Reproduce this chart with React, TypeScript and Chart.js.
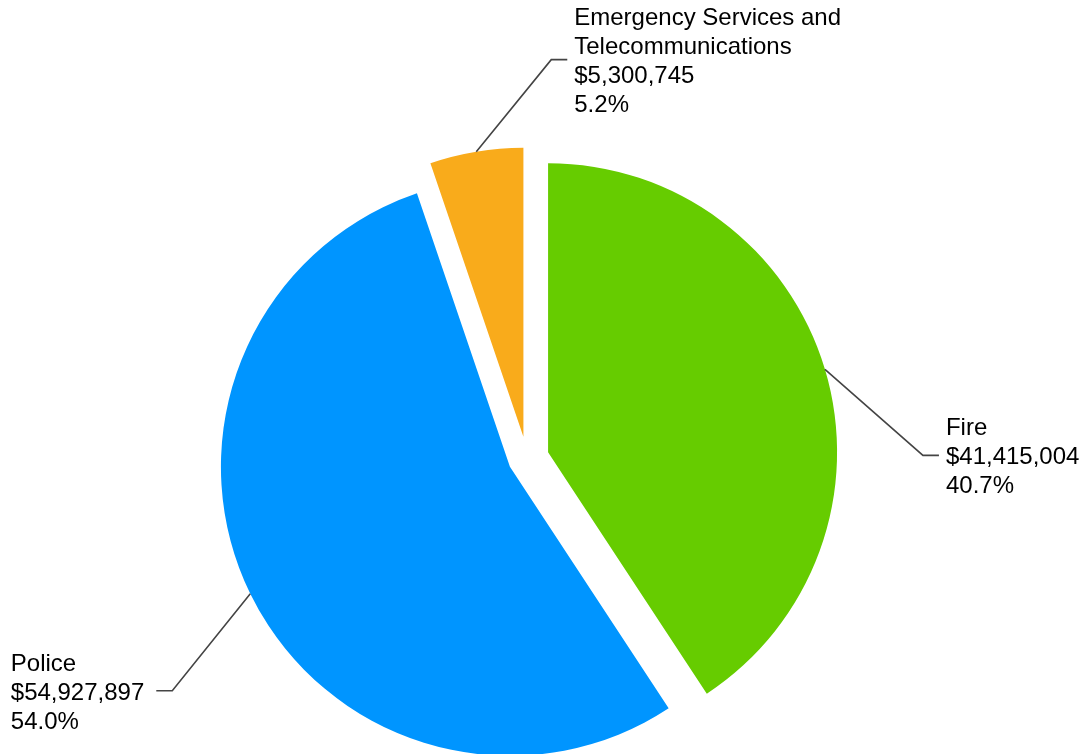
import React, { useEffect, useRef } from "react";
import { Chart, registerables } from "chart.js";

Chart.register(...registerables);

// ---- data ----
const categories = ["Fire", "Police", "Emergency Services and Telecommunications"];
const amounts = [41415004, 54927897, 5300745];
const sliceColors = ["#66CC00", "#0095FF", "#F9AB1B"];

// explode each slice outward along its mid-angle (pixels)
const explodePlugin = {
  id: "explodeSlices",
  afterDatasetsUpdate(chart: any, _args: any, opts: any) {
    const meta = chart.getDatasetMeta(0);
    meta.data.forEach((arc: any, i: number) => {
      const d = (opts.offsets && opts.offsets[i]) || 0;
      const mid = (arc.startAngle + arc.endAngle) / 2;
      arc.x += Math.cos(mid) * d;
      arc.y += Math.sin(mid) * d;
    });
  },
};

function wrapText(ctx: CanvasRenderingContext2D, text: string, maxWidth: number): string[] {
  const words = text.split(" ");
  const lines: string[] = [];
  let cur = "";
  for (const w of words) {
    const test = cur ? cur + " " + w : w;
    if (cur && ctx.measureText(test).width > maxWidth) {
      lines.push(cur);
      cur = w;
    } else {
      cur = test;
    }
  }
  if (cur) lines.push(cur);
  return lines;
}

const labelPlugin = {
  id: "sliceLabels",
  afterDatasetsDraw(chart: any, _args: any, opts: any) {
    const ctx: CanvasRenderingContext2D = chart.ctx;
    const meta = chart.getDatasetMeta(0);
    const values = chart.data.datasets[0].data as number[];
    const labels = chart.data.labels as string[];
    const total = values.reduce((a, b) => a + b, 0);
    ctx.save();
    ctx.font = opts.font;
    ctx.textAlign = "left";
    ctx.textBaseline = "alphabetic";
    meta.data.forEach((arc: any, i: number) => {
      const mid = (arc.startAngle + arc.endAngle) / 2;
      const ax = arc.x + Math.cos(mid) * arc.outerRadius;
      const ay = arc.y + Math.sin(mid) * arc.outerRadius;
      const [dx, dy] = opts.leaders[i];
      const ex = ax + dx;
      const ey = ay + dy;
      const side = dx >= 0 ? 1 : -1;
      const hx = ex + side * opts.tail;

      ctx.strokeStyle = opts.lineColor;
      ctx.lineWidth = opts.lineWidth;
      ctx.beginPath();
      ctx.moveTo(ax, ay);
      ctx.lineTo(ex, ey);
      ctx.lineTo(hx, ey);
      ctx.stroke();

      const v = values[i];
      const lines = [
        ...wrapText(ctx, labels[i], opts.wrapWidth),
        "$" + v.toLocaleString("en-US"),
        ((v / total) * 100).toFixed(1) + "%",
      ];
      const maxW = Math.max(...lines.map((l) => ctx.measureText(l).width));
      const tx = side > 0 ? hx + opts.gapRight : hx - opts.gapLeft - maxW;
      const firstBase = ey - ((lines.length - 1) / 2) * opts.lineHeight + opts.capOffset;
      ctx.fillStyle = opts.textColor;
      lines.forEach((l, k) => ctx.fillText(l, tx, firstBase + k * opts.lineHeight));
    });
    ctx.restore();
  },
};

export default function App() {
  const canvasRef = useRef<HTMLCanvasElement | null>(null);

  useEffect(() => {
    if (!canvasRef.current) return;
    const chart = new Chart(canvasRef.current, {
      type: "pie",
      data: {
        labels: categories,
        datasets: [
          {
            data: amounts,
            backgroundColor: sliceColors,
            borderWidth: 0,
            clip: false,
          } as any,
        ],
      },
      options: {
        responsive: false,
        animation: false,
        events: [],
        radius: 289,
        layout: { padding: { left: 0, right: 34, top: 163, bottom: 0 } },
        plugins: {
          legend: { display: false },
          tooltip: { enabled: false },
          explodeSlices: { offsets: [22, 19, 22] },
          sliceLabels: {
            leaders: [
              [98, 86],
              [-78, 97],
              [75, -92],
            ],
            tail: 16,
            gapRight: 7,
            gapLeft: 12,
            font: "24px 'Liberation Sans', Arial, sans-serif",
            lineHeight: 29,
            capOffset: 9,
            wrapWidth: 290,
            textColor: "#000000",
            lineColor: "#444444",
            lineWidth: 1.6,
          },
        } as any,
      } as any,
      plugins: [explodePlugin, labelPlugin],
    });
    return () => chart.destroy();
  }, []);

  return (
    <div style={{ position: "fixed", left: 0, top: 0, width: 1088, height: 754, background: "#ffffff" }}>
      <canvas ref={canvasRef} width={1088} height={754} style={{ display: "block" }} />
    </div>
  );
}
